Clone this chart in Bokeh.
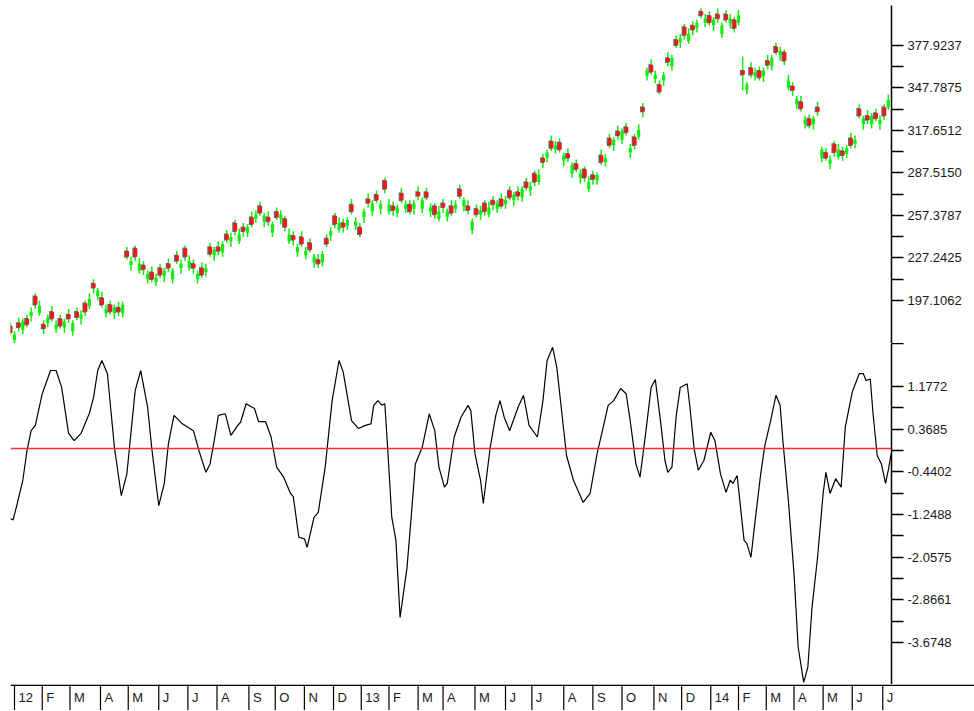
import numpy as np
from bokeh.plotting import figure
from bokeh.layouts import column
from bokeh.models import Range1d, FixedTicker, PrintfTickFormatter, Span
from bokeh.embed import file_html
from bokeh.resources import INLINE
from bokeh.core.properties import value

# ---------------- data ----------------
month_labels = ["12", "F", "M", "A", "M", "J", "J", "A", "S", "O", "N", "D",
                "13", "F", "M", "A", "M", "J", "J", "A", "S", "O", "N", "D",
                "14", "F", "M", "A", "M", "J", "J"]
# trading days in each month, Jan 2012 .. Jun 2014
month_days = [20, 20, 22, 20, 22, 21, 21, 23, 19, 21, 21, 20,
              20, 21, 18, 23, 22, 19, 23, 21, 21, 23, 20, 21,
              20, 20, 20, 21, 21, 22]

first_candle_day = -3     # trading day of first candle (day 0 = first day of Jan 2012)
candle_step = 3           # trading days per candle

closes = [174, 173, 178, 182, 180, 189, 194, 193, 177, 185, 184, 180,
          179, 182, 184, 181, 185, 187, 189, 198, 206, 204, 194, 191,
          189, 192, 189, 194, 228, 225, 228, 223, 219, 216, 212, 213,
          215, 218, 220, 218, 225, 223, 228, 225, 220, 216, 215, 220,
          230, 233, 232, 237, 240, 242, 246, 244, 246, 249, 251, 258,
          259, 257, 253, 251, 256, 258, 249, 244, 240, 235, 237, 232,
          233, 228, 223, 230, 237, 246, 251, 252, 249, 254, 260, 253,
          244, 260, 266, 266, 268, 265, 276, 265, 261, 263, 268, 265,
          260, 266, 271, 268, 270, 263, 258, 260, 263, 260, 259, 265,
          271, 268, 261, 253, 258, 261, 260, 263, 265, 266, 264, 268,
          270, 272, 271, 276, 277, 278, 281, 286, 295, 302, 305, 307,
          304, 300, 298, 293, 290, 287, 284, 281, 283, 286, 295, 298,
          307, 311, 314, 317, 316, 305, 307, 318, 331, 360, 359, 357,
          345, 357, 366, 369, 378, 383, 385, 386, 389, 394, 399, 397,
          394, 396, 397, 392, 396, 397, 390, 399, 357, 350, 357, 359,
          355, 360, 364, 369, 373, 374, 367, 353, 346, 340, 333, 325,
          321, 326, 331, 304, 298, 297, 302, 304, 300, 305, 307, 311,
          328, 326, 325, 328, 326, 325, 328, 339]
opens = [179, 169, 181, 176, 184, 186, 200, 188, 180, 181, 189, 177,
         184, 178, 187, 175, 189, 184, 195, 193, 209, 200, 199, 188,
         194, 188, 192, 188, 232, 222, 234, 218, 222, 212, 217, 210,
         220, 214, 223, 212, 229, 220, 234, 220, 223, 212, 220, 217,
         235, 229, 235, 231, 244, 239, 252, 239, 249, 245, 256, 255,
         264, 253, 256, 245, 260, 255, 255, 239, 243, 231, 242, 229,
         238, 224, 226, 224, 241, 243, 257, 247, 252, 250, 265, 250,
         249, 256, 269, 260, 272, 262, 282, 260, 264, 259, 273, 262,
         265, 262, 274, 262, 274, 260, 264, 255, 266, 256, 264, 262,
         276, 264, 264, 247, 262, 258, 266, 258, 268, 262, 269, 265,
         275, 268, 274, 270, 281, 275, 287, 281, 298, 298, 310, 304,
         309, 296, 301, 287, 294, 284, 290, 276, 286, 282, 300, 295,
         312, 307, 317, 311, 320, 302, 313, 313, 334, 356, 364, 354,
         350, 353, 369, 363, 382, 380, 391, 381, 392, 390, 402, 394,
         399, 392, 400, 386, 400, 394, 396, 394, 360, 346, 362, 356,
         360, 356, 367, 363, 377, 371, 373, 348, 349, 336, 338, 322,
         326, 322, 334, 298, 302, 294, 308, 299, 303, 301, 312, 308,
         333, 322, 328, 322, 330, 322, 334, 334]
highs = [182, 175, 185, 184, 187, 192, 202, 197, 183, 187, 193, 183,
         187, 184, 191, 183, 192, 190, 197, 202, 212, 206, 203, 194,
         197, 194, 196, 196, 235, 228, 236, 227, 225, 218, 221, 216,
         223, 220, 227, 220, 232, 226, 236, 229, 226, 218, 224, 223,
         238, 235, 239, 239, 247, 245, 254, 248, 252, 251, 260, 261,
         267, 259, 260, 253, 263, 261, 257, 248, 246, 237, 246, 235,
         241, 230, 230, 232, 244, 249, 259, 256, 255, 256, 269, 256,
         252, 262, 273, 268, 275, 268, 284, 269, 267, 265, 277, 268,
         268, 268, 278, 270, 277, 266, 266, 264, 269, 262, 268, 268,
         279, 270, 268, 255, 265, 264, 268, 267, 271, 268, 273, 271,
         278, 274, 278, 278, 284, 281, 289, 290, 301, 304, 314, 310,
         312, 302, 305, 295, 297, 290, 292, 285, 289, 288, 304, 301,
         315, 313, 321, 319, 323, 308, 315, 322, 337, 362, 368, 360,
         353, 359, 373, 371, 385, 386, 393, 390, 395, 396, 404, 400,
         402, 398, 404, 394, 403, 400, 398, 403, 370, 352, 366, 362,
         363, 362, 371, 371, 380, 377, 375, 357, 352, 342, 342, 328,
         329, 328, 338, 306, 305, 300, 310, 308, 306, 307, 316, 314,
         336, 328, 332, 330, 333, 328, 336, 343]
lows = [172, 165, 175, 173, 178, 182, 191, 186, 173, 178, 182, 174,
        177, 174, 181, 172, 183, 180, 186, 191, 202, 197, 192, 185,
        187, 184, 186, 185, 226, 218, 225, 216, 215, 209, 210, 207,
        213, 210, 217, 209, 223, 216, 225, 218, 216, 209, 213, 214,
        228, 225, 229, 228, 238, 235, 243, 237, 242, 242, 249, 252,
        257, 249, 250, 242, 254, 251, 246, 237, 236, 228, 235, 226,
        231, 220, 220, 221, 235, 239, 248, 245, 245, 247, 258, 247,
        242, 252, 263, 257, 266, 258, 273, 258, 257, 256, 266, 259,
        258, 258, 268, 259, 268, 256, 255, 253, 259, 253, 257, 259,
        269, 260, 258, 244, 256, 254, 257, 256, 261, 259, 262, 262,
        268, 264, 268, 267, 275, 271, 278, 279, 291, 295, 303, 301,
        302, 292, 295, 284, 288, 280, 281, 274, 279, 279, 293, 292,
        305, 303, 311, 308, 314, 298, 304, 311, 327, 353, 357, 351,
        343, 349, 363, 360, 376, 376, 382, 379, 385, 387, 397, 391,
        392, 388, 394, 383, 394, 390, 387, 392, 346, 343, 355, 353,
        353, 352, 361, 360, 371, 367, 364, 346, 342, 333, 331, 319,
        319, 318, 328, 295, 296, 290, 299, 297, 296, 298, 305, 305,
        326, 318, 322, 319, 324, 318, 325, 332]

osc_day = [-3, -1, 2, 6, 9, 12, 15, 20, 26, 30,
           34, 39, 43, 48, 54, 57, 60, 63, 67, 72,
           77, 81, 87, 91, 96, 99, 104, 108, 111, 115,
           121, 129, 133, 138, 141, 144, 147, 152, 156, 161,
           163, 167, 173, 176, 181, 185, 189, 194, 199, 201,
           205, 209, 211, 216, 219, 224, 229, 234, 237, 243,
           248, 253, 257, 259, 262, 265, 267, 269, 272, 275,
           278, 283, 286, 289, 294, 299, 303, 306, 310, 312,
           317, 322, 327, 329, 332, 336, 338, 343, 347, 350,
           353, 357, 363, 367, 371, 377, 381, 384, 388, 391,
           398, 403, 410, 415, 420, 425, 428, 432, 437, 441,
           444, 448, 451, 455, 459, 462, 466, 469, 471, 474,
           477, 480, 485, 487, 490, 493, 497, 502, 505, 509,
           513, 516, 518, 521, 523, 526, 528, 531, 534, 538,
           541, 545, 549, 552, 554, 558, 562, 565, 569, 572,
           575, 579, 583, 585, 588, 592, 596, 599, 604, 609,
           612, 614, 617, 619, 622, 625, 628, 630, 632]
osc_val = [-1.33, -1.35, -1.04, -0.60, -0.04, 0.34, 0.44, 1.04, 1.48, 1.48,
           1.16, 0.29, 0.15, 0.29, 0.67, 0.97, 1.48, 1.67, 1.42, 0.03,
           -0.89, -0.48, 1.10, 1.48, 0.78, 0.0, -1.08, -0.66, 0.10, 0.63,
           0.47, 0.34, -0.04, -0.45, -0.29, 0.15, 0.63, 0.66, 0.25, 0.44,
           0.50, 0.85, 0.76, 0.51, 0.51, 0.22, -0.35, -0.54, -0.85, -0.91,
           -1.68, -1.71, -1.87, -1.30, -1.21, -0.35, 0.91, 1.67, 1.45, 0.53,
           0.38, 0.44, 0.47, 0.82, 0.91, 0.82, 0.85, 0.03, -1.30, -1.74,
           -3.20, -2.25, -1.30, -0.29, 0.03, 0.66, 0.34, -0.35, -0.73, -0.66,
           0.22, 0.60, 0.82, 0.72, -0.10, -0.60, -1.04, 0.03, 0.63, 0.91,
           0.60, 0.34, 0.78, 1.01, 0.44, 0.22, 0.91, 1.67, 1.92, 1.54,
           -0.13, -0.60, -1.02, -0.85, -0.10, 0.47, 0.82, 0.91, 1.14, 1.04,
           0.51, -0.29, -0.54, 0.28, 1.16, 1.31, 0.47, -0.23, -0.45, -0.35,
           0.60, 1.16, 1.23, 0.78, 0.0, -0.41, -0.23, 0.31, 0.15, -0.48,
           -0.83, -0.60, -0.66, -0.51, -1.0, -1.74, -1.80, -2.06, -1.36, -0.48,
           0.06, 0.51, 1.01, 0.82, 0.15, -1.0, -2.37, -3.76, -4.43, -4.14,
           -3.01, -2.06, -0.85, -0.45, -0.85, -0.57, -0.73, 0.41, 1.07, 1.42,
           1.42, 1.29, 1.32, 0.66, -0.13, -0.29, -0.66, -0.41, -0.10]

price_ticks = [197.1062, 227.2425, 257.3787, 287.5150, 317.6512, 347.7875, 377.9237]
osc_ticks = [1.1772, 0.3685, -0.4402, -1.2488, -2.0575, -2.8661, -3.6748]

# ---------------- layout constants ----------------
PX_PER_DAY = 1.387
LEFT = 10
FRAME_W = 881
RIGHT = 83
TOTAL_W = LEFT + FRAME_W + RIGHT
X0 = -4 / PX_PER_DAY
xr = Range1d(X0, X0 + FRAME_W / PX_PER_DAY)

GREEN = "#10ee10"
RED = "#ee1a1a"
SHADOW = "#666666"
LABEL_COLOR = "#1a1a1a"
FONT = "Liberation Sans"


def style_axis(ax, majors, minors):
    ax.ticker = FixedTicker(ticks=majors, minor_ticks=minors)
    ax.formatter = PrintfTickFormatter(format="%.4f")
    ax.major_tick_out = 12
    ax.major_tick_in = 0
    ax.minor_tick_out = 12
    ax.minor_tick_in = 0
    ax.major_tick_line_color = "black"
    ax.minor_tick_line_color = "black"
    ax.major_tick_line_width = 1.3
    ax.minor_tick_line_width = 1.3
    ax.axis_line_color = "black"
    ax.axis_line_width = 1.5
    ax.major_label_standoff = 4
    ax.major_label_text_font = FONT
    ax.major_label_text_font_size = "13px"
    ax.major_label_text_color = LABEL_COLOR


def base_fig(height, y_range, width=TOTAL_W, right=RIGHT, xrange=xr, yaxis="right", top=0):
    f = figure(width=width, height=height, x_range=xrange, y_range=y_range,
               output_backend="svg", toolbar_location=None,
               min_border_left=LEFT, min_border_right=right,
               min_border_top=top, min_border_bottom=0,
               x_axis_location=None, y_axis_location=yaxis)
    f.grid.visible = False
    f.outline_line_color = None
    f.background_fill_color = "white"
    f.border_fill_color = "white"
    return f


def mids(vals):
    v = sorted(vals)
    return [(a + b) / 2 for a, b in zip(v[:-1], v[1:])]


# ---------------- upper panel: candles ----------------
p1 = base_fig(343, Range1d(166.48, 406.17), top=5)
style_axis(p1.yaxis[0], price_ticks, mids(price_ticks))

days = first_candle_day + candle_step * np.arange(len(closes))
o = np.array(opens, dtype=float)
c = np.array(closes, dtype=float)
h = np.array(highs, dtype=float)
l = np.array(lows, dtype=float)
up = c >= o
dn = ~up

p1.segment(days, h, days, l, line_color=GREEN, line_width=1.5)
p1.vbar(x=days[up], width=2.3, top=c[up], bottom=o[up],
        fill_color=GREEN, line_color=None)
p1.vbar(x=days[dn] - 0.6, width=2.8, top=o[dn] + 0.5, bottom=c[dn] - 0.5,
        fill_color=SHADOW, line_color=None)
p1.vbar(x=days[dn] + 0.2, width=2.7, top=o[dn], bottom=c[dn],
        fill_color=RED, line_color=None)

# ---------------- lower panel: oscillator ----------------
p2 = base_fig(341, Range1d(-4.4708, 1.9922))
osc_minor = mids(osc_ticks) + [osc_ticks[0] + (osc_ticks[0] - osc_ticks[1])]
style_axis(p2.yaxis[0], osc_ticks, osc_minor)
p2.add_layout(Span(location=0, dimension="width", line_color="#ff2a2a", line_width=1.5))
p2.line(osc_day, osc_val, line_color="black", line_width=1.2)

# ---------------- month strip ----------------
STRIP_H = 26
can_free = hasattr(figure(), "frame_align")
if can_free:
    strip_range = Range1d(X0, X0 + (FRAME_W + RIGHT) / PX_PER_DAY)
    p3 = base_fig(STRIP_H, Range1d(0, STRIP_H), right=0, xrange=strip_range, yaxis=None)
    p3.frame_align = False
else:
    p3 = base_fig(STRIP_H, Range1d(0, STRIP_H), yaxis=None)
month_starts = np.concatenate([[0], np.cumsum(month_days)])
p3.segment(month_starts, 0, month_starts, STRIP_H, line_color="black", line_width=1.2)
p3.add_layout(Span(location=STRIP_H - 0.7, dimension="width", line_color="black", line_width=1.5))
p3.text(x=month_starts, y=13, text=month_labels, x_offset=4,
        text_align="left", text_baseline="middle",
        text_font=value(FONT), text_font_size="13px", text_color=LABEL_COLOR)

layout = column(p1, p2, p3, spacing=0)
open("out.html", "w").write(file_html(layout, INLINE))
